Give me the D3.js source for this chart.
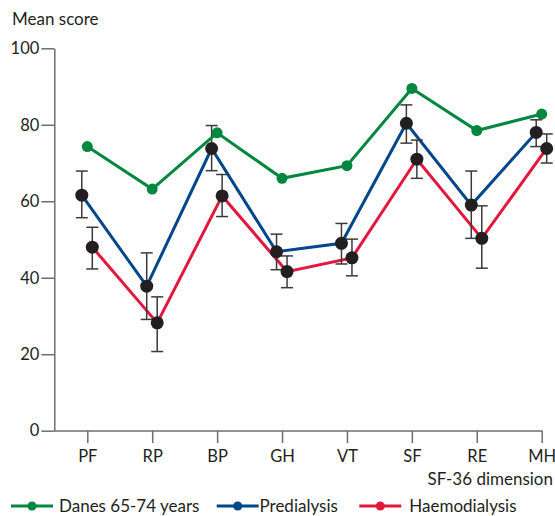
<!DOCTYPE html>
<html>
<head>
<meta charset="utf-8">
<script src="https://cdn.jsdelivr.net/npm/d3@7"></script>
<style>
	body { margin: 0; background: #fff; }
	svg text { font-family: Lato, "Open Sans", sans-serif; fill: #231f20; }
</style>
</head>
<body>
<script>
// SF-36 dimensions on the x axis
const categories = ["PF", "RP", "BP", "GH", "VT", "SF", "RE", "MH"];
const yTicks = [0, 20, 40, 60, 80, 100];

// mean scores
const danes = [74.3, 63.2, 77.9, 66.0, 69.3, 89.5, 78.5, 82.8];
const predialysis = [61.6, 37.8, 73.8, 46.8, 49.0, 80.4, 59.0, 78.0];
const predialysisLow = [55.7, 29.1, 68.0, 42.1, 43.6, 75.2, 50.3, 74.3];
const predialysisHigh = [67.9, 46.5, 79.8, 51.4, 54.2, 85.2, 67.9, 81.3];
const haemodialysis = [48.0, 28.2, 61.4, 41.6, 45.2, 71.0, 50.3, 73.8];
const haemodialysisLow = [42.3, 20.7, 56.0, 37.4, 40.5, 66.0, 42.5, 70.0];
const haemodialysisHigh = [53.2, 35.0, 67.0, 45.7, 50.1, 76.0, 58.8, 77.6];

const seriesNames = ["Danes 65-74 years", "Predialysis", "Haemodialysis"];

const w = 555;
const h = 516;
const axisX = 54.3;
const axisY = 431;

const green = "#00873f";
const blue = "#00468b";
const red = "#e2173d";
const dark = "#231f20";

const x = d3.scalePoint().domain(categories).range([87.3, 541.7]);
const y = d3.scaleLinear().domain([0, 100]).range([430.7, 48.3]);

const svg = d3.select("body").append("svg").attr("width", w).attr("height", h);

// y axis
const yAxis = svg.append("g")
	.attr("transform", "translate(" + axisX + ",0)")
	.call(d3.axisLeft(y).tickValues(yTicks).tickSize(13).tickSizeOuter(0).tickPadding(2));
yAxis.selectAll("path, line").attr("stroke", "#6d6e71").attr("stroke-width", 1.5);
yAxis.selectAll("text").style("font-size", "16.5px").attr("fill", dark);

// x axis, domain drawn by hand so it starts at the y axis
const xAxis = svg.append("g")
	.attr("transform", "translate(0," + axisY + ")")
	.call(d3.axisBottom(x).tickSize(12).tickSizeOuter(0).tickPadding(7));
xAxis.select(".domain").remove();
xAxis.selectAll("line").attr("stroke", "#6d6e71").attr("stroke-width", 1.5);
xAxis.selectAll("text").style("font-size", "16.5px").attr("fill", dark);
xAxis.append("line")
	.attr("x1", axisX)
	.attr("x2", x(categories[categories.length - 1]) + 0.75)
	.attr("stroke", "#6d6e71")
	.attr("stroke-width", 1.5);

// axis titles
svg.append("text").text("Mean score").attr("x", 12).attr("y", 25).style("font-size", "17px");
svg.append("text").text("SF-36 dimension").attr("x", 553).attr("y", 485)
	.attr("text-anchor", "end").style("font-size", "17px");

// data rows
const rows = categories.map((c, i) => ({
	cat: c,
	danes: danes[i],
	pre: predialysis[i], preLo: predialysisLow[i], preHi: predialysisHigh[i],
	hae: haemodialysis[i], haeLo: haemodialysisLow[i], haeHi: haemodialysisHigh[i]
}));

const preShift = -5.5;
const haeShift = 5;

const line = (key, shift) => d3.line().x((d) => x(d.cat) + shift).y((d) => y(d[key]));

svg.append("path").datum(rows).attr("d", line("pre", preShift))
	.attr("fill", "none").attr("stroke", blue).attr("stroke-width", 3);
svg.append("path").datum(rows).attr("d", line("hae", haeShift))
	.attr("fill", "none").attr("stroke", red).attr("stroke-width", 3);

// error bars
const errorBars = (lo, hi, shift) => {
	const g = svg.append("g").attr("stroke", "#3a3a3a").attr("stroke-width", 1.5);
	g.selectAll(".v").data(rows).enter().append("line")
		.attr("x1", (d) => x(d.cat) + shift).attr("x2", (d) => x(d.cat) + shift)
		.attr("y1", (d) => y(d[lo])).attr("y2", (d) => y(d[hi]));
	[lo, hi].forEach((k) => {
		g.selectAll(".c" + k).data(rows).enter().append("line")
			.attr("x1", (d) => x(d.cat) + shift - 6).attr("x2", (d) => x(d.cat) + shift + 6)
			.attr("y1", (d) => y(d[k])).attr("y2", (d) => y(d[k]));
	});
};
errorBars("preLo", "preHi", preShift);
errorBars("haeLo", "haeHi", haeShift);

// black markers
svg.selectAll(".mpre").data(rows).enter().append("circle")
	.attr("cx", (d) => x(d.cat) + preShift).attr("cy", (d) => y(d.pre))
	.attr("r", 6.5).attr("fill", dark);
svg.selectAll(".mhae").data(rows).enter().append("circle")
	.attr("cx", (d) => x(d.cat) + haeShift).attr("cy", (d) => y(d.hae))
	.attr("r", 6.5).attr("fill", dark);

// danes on top
svg.append("path").datum(rows).attr("d", line("danes", 0))
	.attr("fill", "none").attr("stroke", green).attr("stroke-width", 3);
svg.selectAll(".mdan").data(rows).enter().append("circle")
	.attr("cx", (d) => x(d.cat)).attr("cy", (d) => y(d.danes))
	.attr("r", 5.5).attr("fill", green);

// legend
const legendY = 506;
const legend = [
	{ name: seriesNames[0], color: green, x: 11, tx: 59 },
	{ name: seriesNames[1], color: blue, x: 216.7, tx: 259.5 },
	{ name: seriesNames[2], color: red, x: 359.3, tx: 409.3 }
];
legend.forEach((l) => {
	svg.append("line").attr("x1", l.x).attr("x2", l.x + 42)
		.attr("y1", legendY).attr("y2", legendY)
		.attr("stroke", l.color).attr("stroke-width", 3);
	svg.append("circle").attr("cx", l.x + 21).attr("cy", legendY).attr("r", 4.5).attr("fill", l.color);
	svg.append("text").text(l.name).attr("x", l.tx).attr("y", legendY + 5.5).style("font-size", "17px");
});
</script>
</body>
</html>
